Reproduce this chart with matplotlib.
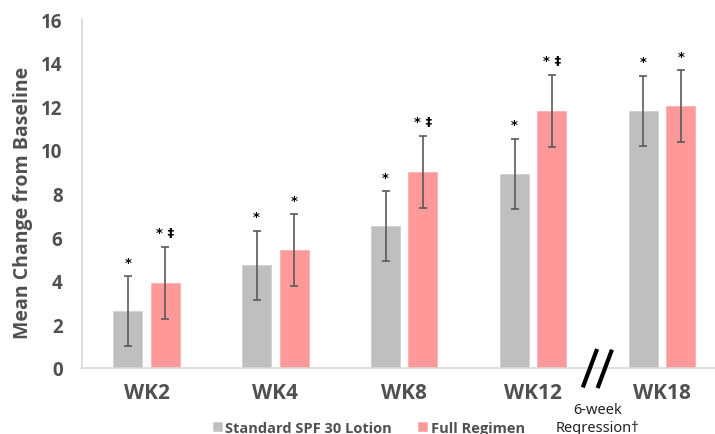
import matplotlib
matplotlib.use("Agg")
import matplotlib.pyplot as plt
import numpy as np

categories = ["WK2", "WK4", "WK8", "WK12", "WK18"]
spf_values = [2.6, 4.7, 6.5, 8.9, 11.8]
spf_err = [1.6, 1.6, 1.6, 1.6, 1.6]
full_values = [3.9, 5.4, 9.0, 11.8, 12.0]
full_err = [1.65, 1.65, 1.65, 1.65, 1.65]
spf_marks = ["*", "*", "*", "*", "*"]
full_marks = ["* ‡", "*", "* ‡", "* ‡", "*"]
series_names = ["Standard SPF 30 Lotion", "Full Regimen"]
y_ticks = [0, 2, 4, 6, 8, 10, 12, 14, 16]

gray = "#bfbfbf"
pink = "#ff9999"
txt = "#505050"
font = "Open Sans"

fig = plt.figure(figsize=(7.15, 4.35), dpi=100)
ax = fig.add_axes([82/715, 66/435, 1 - 82/715, (369-20)/435])

x = np.arange(len(categories))
w = 0.225
off = 0.145
b1 = ax.bar(x - off, spf_values, w, color=gray, edgecolor="#d0d0d0", linewidth=0.6, label=series_names[0], zorder=2)
b2 = ax.bar(x + off, full_values, w, color=pink, edgecolor="#ffb0b0", linewidth=0.6, label=series_names[1], zorder=2)
ax.errorbar(x - off, spf_values, yerr=spf_err, fmt="none", ecolor="#5a5a5a", elinewidth=1.2, capsize=3, capthick=1.2, zorder=3)
ax.errorbar(x + off, full_values, yerr=full_err, fmt="none", ecolor="#5a5a5a", elinewidth=1.2, capsize=3, capthick=1.2, zorder=3)

for i in range(len(categories)):
    ax.text(x[i] - off, spf_values[i] + spf_err[i] + 0.65, spf_marks[i], ha="center", va="center",
            fontsize=9.5, fontweight="bold", color="black", family="DejaVu Sans")
    ax.text(x[i] + off, full_values[i] + full_err[i] + 0.65, full_marks[i], ha="center", va="center",
            fontsize=9.5, fontweight="bold", color="black", family="DejaVu Sans")

ax.set_ylim(0, 16)
ax.set_xlim(-0.5, 4.41)
ax.set_yticks(y_ticks)
ax.set_yticklabels([str(t) for t in y_ticks], fontsize=13.5, fontweight="bold", color=txt, family=font)
ax.set_xticks(x)
ax.set_xticklabels(categories, fontsize=15, fontweight="bold", color=txt, family=font)
ax.tick_params(axis="y", length=0, pad=14)
ax.tick_params(axis="x", length=0, pad=10)
for s in ["top", "right"]:
    ax.spines[s].set_visible(False)
for s in ["left", "bottom"]:
    ax.spines[s].set_color("#d9d9d9")
    ax.spines[s].set_linewidth(1.2)

fig.text(23/715, 1 - 203/435, "Mean Change from Baseline", rotation=90, ha="center", va="center",
         fontsize=14, fontweight="bold", color=txt, family=font)

# axis break marks between WK12 and WK18
xb = 3.5
ax.plot([xb - 0.11, xb - 0.01], [-0.8, 0.78], color="black", lw=3, clip_on=False, zorder=5)
ax.plot([xb + 0.005, xb + 0.105], [-0.83, 0.75], color="black", lw=3, clip_on=False, zorder=5)
ax.text(xb, -2.3, "6-week\nRegression\u2020", ha="center", va="center", fontsize=10.5,
        color="#222222", family="Noto Sans", linespacing=1.25, clip_on=False)

leg = fig.legend(handles=[b1, b2], loc="center", bbox_to_anchor=(369/715, 6/435), ncol=2, frameon=False,
                 handlelength=0.6, handleheight=0.6, handletextpad=0.25, columnspacing=1.8,
                 prop={"family": font, "weight": "bold", "size": 10.5}, borderpad=0)
for t in leg.get_texts():
    t.set_color(txt)

fig.savefig("out.png", dpi=100)
